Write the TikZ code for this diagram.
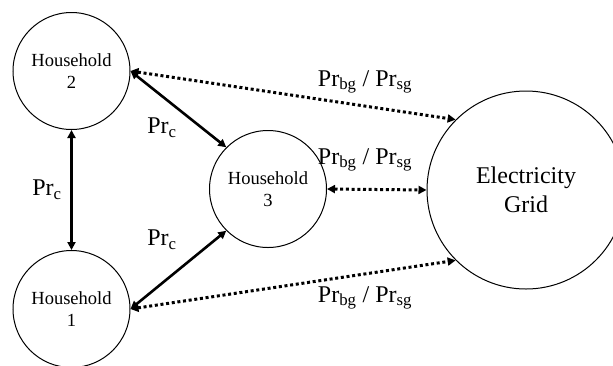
\documentclass[tikz,border=0pt]{standalone}
\usepackage{fontspec}
\setmainfont{Liberation Serif}
\usetikzlibrary{arrows.meta,positioning}
\tikzset{
  house/.style={draw,circle,line width=1pt,minimum size=117pt,inner sep=0pt,align=center,font=\fontsize{18.5}{22}\selectfont},
  gridnode/.style={draw,circle,line width=1pt,minimum size=198pt,inner sep=0pt,align=center,font=\fontsize{24}{29}\selectfont},
  peer/.style={{Triangle[length=8pt,width=8pt]}-{Triangle[length=8pt,width=8pt]},line width=2.6pt},
  trade/.style={{Triangle[length=8pt,width=8pt]}-{Triangle[length=8pt,width=8pt]},line width=3pt,dash pattern=on 3pt off 2.7pt},
  lbl/.style={font=\fontsize{24}{28}\selectfont,inner sep=1pt}
}
\begin{document}
\begin{tikzpicture}[x=1pt,y=-1pt]
  \useasboundingbox (0,0) rectangle (613,365);
  \node[house] (h2) at (71.5,71) {Household\\2};
  \node[house] (h1) at (71.5,309) {Household\\1};
  \node[house] (h3) at (268,189) {Household\\3};
  \node[gridnode] (g) at (526,190) {Electricity\\Grid};

  \draw[peer] (h2.south) -- (h1.north);
  \draw[peer] (h2.east) -- (h3.north west);
  \draw[peer] (h1.east) -- (h3.south west);
  \draw[trade] (h2.east) -- (g.north west);
  \draw[trade] (h3.east) -- (g.west);
  \draw[trade] (h1.east) -- (g.south west);

  \node[lbl] (c1) at (47,190) {Pr\textsubscript{c}};
  \node[lbl] (c2) at (162,128) {Pr\textsubscript{c}};
  \node[lbl] (c3) at (162,240) {Pr\textsubscript{c}};
  \node[lbl] (t1) at (365,82) {Pr\textsubscript{bg} / Pr\textsubscript{sg}};
  \node[lbl] (t2) at (365,160) {Pr\textsubscript{bg} / Pr\textsubscript{sg}};
  \node[lbl] (t3) at (365,298) {Pr\textsubscript{bg} / Pr\textsubscript{sg}};
\end{tikzpicture}
\end{document}
